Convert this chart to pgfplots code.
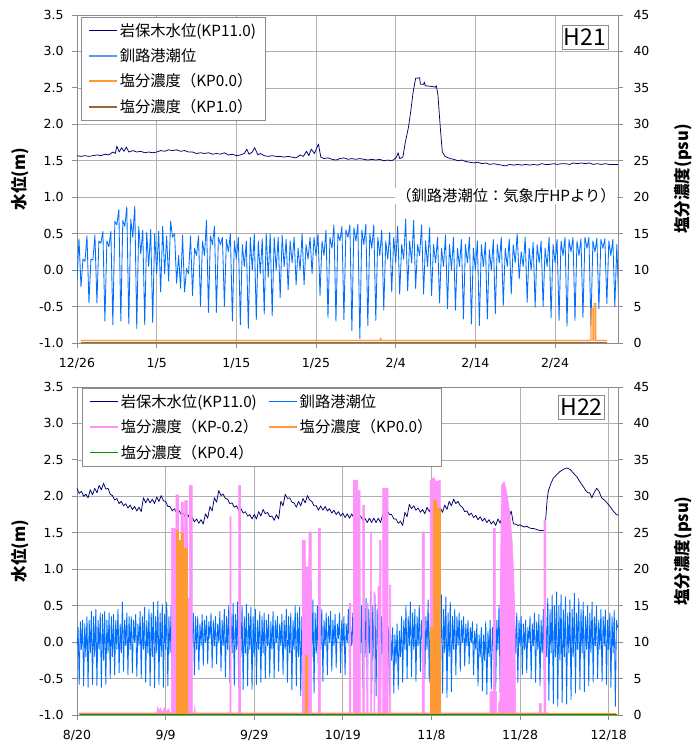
\documentclass[border=0pt]{standalone}
\usepackage{fontspec}
\setmainfont{Noto Sans CJK JP}
\newfontfamily\numfont{DejaVu Sans}
\usepackage{pgfplots}
\usepackage{pgfplotstable}
\pgfplotsset{compat=1.18}
\definecolor{navy}{RGB}{0,0,110}
\definecolor{kushiroBlue}{RGB}{0,110,255}
\definecolor{kushiroLight}{RGB}{90,150,245}
\definecolor{colOr}{RGB}{255,153,51}
\definecolor{colBr}{RGB}{153,102,51}
\definecolor{colPk}{RGB}{255,145,250}
\definecolor{colGr}{RGB}{0,150,0}
\definecolor{gridc}{RGB}{175,175,175}
\definecolor{axisc}{RGB}{140,140,140}
\newcommand\fs[1]{\fontsize{#1}{#1}\selectfont}
% tide at Kushiro port, H21 (every 6 h from 12/26)
\pgfplotstableread[header=false]{
-0.15
0.43
-0.23
0.15
0.12
0.47
-0.45
0.15
0.14
0.48
-0.45
0.40
0.37
0.53
-0.70
0.40
0.32
0.53
-0.75
0.67
0.62
0.83
-0.70
0.68
0.60
0.87
-0.74
0.70
0.45
0.88
-0.80
0.60
0.22
0.55
-0.75
0.52
0.05
0.56
-0.72
0.50
-0.05
0.53
-0.30
0.60
-0.05
0.47
-0.15
0.67
0.45
0.50
-0.18
0.20
-0.25
0.48
-0.30
0.02
-0.05
0.47
-0.35
0.30
0.20
0.47
-0.50
0.40
0.20
0.68
-0.58
0.47
0.35
0.60
-0.58
0.45
0.35
0.45
-0.50
0.42
0.25
0.50
-0.70
0.40
0.15
0.45
-0.75
0.35
0.05
0.40
-0.80
0.45
0.00
0.50
-0.68
0.40
-0.05
0.43
-0.60
0.50
-0.10
0.50
-0.63
0.45
0.00
0.45
-0.38
0.48
0.05
0.42
-0.27
0.40
0.10
0.45
-0.20
0.30
0.00
0.50
-0.20
0.35
0.15
0.45
-0.05
0.45
0.20
0.50
-0.35
0.40
0.20
0.55
-0.65
0.45
0.30
0.62
-0.70
0.50
0.40
0.60
-0.68
0.55
0.45
0.62
-0.83
0.58
0.40
0.63
-0.94
0.55
0.35
0.63
-0.76
0.50
0.30
0.62
-0.69
0.45
0.20
0.55
-0.55
0.40
0.15
0.52
-0.30
0.45
0.10
0.60
-0.33
0.35
0.15
0.70
-0.28
0.40
0.10
0.68
-0.25
0.35
0.20
0.62
-0.33
0.40
0.05
0.58
-0.35
0.35
0.10
0.45
-0.45
0.30
0.05
0.48
-0.53
0.35
0.00
0.45
-0.55
0.30
0.05
0.42
-0.67
0.35
0.10
0.45
-0.74
0.30
0.00
0.40
-0.76
0.35
0.05
0.38
-0.67
0.28
0.00
0.42
-0.60
0.35
0.10
0.45
-0.49
0.30
0.05
0.43
-0.33
0.35
0.10
0.50
-0.12
0.25
0.05
0.45
-0.44
0.30
0.00
0.38
-0.51
0.35
0.10
0.40
-0.50
0.30
0.05
0.45
-0.65
0.35
0.10
0.42
-0.69
0.40
0.20
0.45
-0.77
0.42
0.25
0.45
-0.69
0.40
0.20
0.43
-0.65
0.45
0.30
0.45
-0.76
0.40
0.25
0.44
-0.53
0.42
0.30
0.43
-0.46
0.40
0.20
0.42
-0.50
0.35
-0.46
}\tideTop
% tide at Kushiro port, H22 (every 6 h from 8/20)
\pgfplotstableread[header=false]{
-0.05
0.20
-0.58
0.28
-0.10
0.30
-0.60
0.25
-0.20
0.35
-0.62
0.30
-0.15
0.42
-0.58
0.35
-0.20
0.45
-0.60
0.30
-0.10
0.40
-0.62
0.38
-0.25
0.42
-0.58
0.30
-0.15
0.40
-0.50
0.35
-0.20
0.38
-0.45
0.30
-0.10
0.45
-0.42
0.25
-0.15
0.55
-0.40
0.30
-0.05
0.40
-0.45
0.35
-0.10
0.35
-0.42
0.30
0.00
0.38
-0.47
0.25
-0.05
0.42
-0.50
0.35
-0.10
0.48
-0.55
0.30
-0.15
0.45
-0.60
0.40
-0.20
0.55
-0.63
0.35
-0.15
0.56
-0.58
0.40
-0.20
0.52
-0.62
0.38
-0.10
0.55
-0.60
0.35
-0.15
0.50
-0.55
0.40
-0.10
0.45
-0.50
0.30
-0.05
0.40
-0.45
0.35
-0.10
0.38
-0.48
0.25
-0.05
0.42
-0.45
0.30
0.00
0.40
-0.45
0.35
-0.10
0.35
-0.38
0.25
-0.05
0.38
-0.32
0.30
0.00
0.36
-0.30
0.28
0.05
0.40
-0.35
0.30
-0.05
0.35
-0.30
0.25
0.00
0.42
-0.40
0.30
-0.05
0.45
-0.48
0.35
-0.10
0.50
-0.55
0.40
-0.15
0.53
-0.60
0.38
-0.10
0.55
-0.62
0.40
-0.20
0.50
-0.65
0.35
-0.15
0.52
-0.60
0.40
-0.10
0.48
-0.65
0.35
-0.20
0.45
-0.58
0.30
-0.10
0.42
-0.55
0.35
-0.15
0.40
-0.50
0.30
-0.05
0.38
-0.48
0.28
-0.10
0.42
-0.49
0.30
0.00
0.35
-0.40
0.25
-0.05
0.38
-0.45
0.30
-0.10
0.45
-0.55
0.35
-0.15
0.40
-0.65
0.30
-0.10
0.50
-0.60
0.40
-0.20
0.48
-0.74
0.35
-0.15
0.52
-0.65
0.40
-0.10
0.55
-0.68
0.45
-0.20
0.58
-0.70
0.40
-0.15
0.50
-0.60
0.35
-0.10
0.45
-0.54
0.30
-0.05
0.40
-0.45
0.35
0.00
0.42
-0.40
0.30
-0.05
0.38
-0.35
0.25
0.05
0.40
-0.42
0.30
-0.05
0.35
-0.45
0.25
0.00
0.45
-0.25
0.20
-0.05
0.40
-0.40
0.30
-0.10
0.46
-0.55
0.35
-0.15
0.50
-0.62
0.40
-0.20
0.60
-0.70
0.45
-0.15
0.69
-0.72
0.50
-0.20
0.65
-0.74
0.45
-0.10
0.55
-0.70
0.35
-0.15
0.30
-0.68
0.25
-0.20
0.21
-0.72
0.15
-0.25
0.20
-0.70
0.10
-0.30
0.25
-0.65
0.15
-0.20
0.35
-0.55
0.30
-0.10
0.50
-0.50
0.35
-0.05
0.55
-0.47
0.40
-0.10
0.45
-0.54
0.35
-0.05
0.50
-0.40
0.30
0.00
0.45
-0.50
0.35
-0.10
0.58
-0.55
0.40
-0.15
0.55
-0.60
0.40
-0.10
0.60
-0.65
0.45
-0.20
0.65
-0.70
0.45
-0.15
0.62
-0.76
0.40
-0.20
0.55
-0.68
0.35
-0.10
0.45
-0.45
0.35
-0.05
0.40
-0.40
0.30
0.00
0.35
-0.33
0.25
-0.05
0.30
-0.30
0.20
0.00
0.28
-0.45
0.15
-0.10
0.25
-0.60
0.10
-0.20
0.20
-0.67
0.10
-0.25
0.28
-0.72
0.15
-0.20
0.30
-0.65
0.20
-0.15
0.45
-0.65
0.30
-0.10
0.51
-0.70
0.35
-0.15
0.50
-0.74
0.40
-0.20
0.48
-0.65
0.35
-0.10
0.45
-0.60
0.30
-0.15
0.40
-0.55
0.30
-0.05
0.35
-0.45
0.25
-0.10
0.30
-0.42
0.20
0.00
0.35
-0.50
0.25
-0.05
0.40
-0.55
0.28
-0.10
0.38
-0.60
0.30
-0.15
0.45
-0.65
0.35
-0.20
0.60
-0.80
0.45
-0.15
0.65
-0.85
0.50
-0.20
0.69
-0.88
0.50
-0.25
0.65
-0.83
0.45
-0.20
0.62
-0.85
0.40
-0.15
0.58
-0.79
0.45
-0.20
0.67
-0.70
0.40
-0.10
0.60
-0.65
0.45
-0.15
0.55
-0.68
0.35
-0.10
0.50
-0.60
0.40
-0.15
0.55
-0.55
0.35
-0.05
0.50
-0.50
0.30
-0.10
0.45
-0.54
0.35
-0.05
0.44
-0.58
0.30
-0.10
0.40
-0.62
0.35
-0.15
0.44
-0.88
0.30
0.20
}\tideBot
% Iwabokki water level, H22 (every 12 h from 8/20)
\pgfplotstableread[header=false]{
2.11
2.04
2.07
2.00
2.03
1.98
2.09
2.02
2.11
2.05
2.15
2.09
2.18
2.10
2.11
2.03
2.01
1.95
1.97
1.90
1.93
1.87
1.90
1.84
1.88
1.82
1.86
1.80
1.85
1.79
1.98
1.91
1.97
1.91
1.96
1.90
1.99
1.93
2.01
1.94
1.93
1.86
1.86
1.80
1.83
1.77
1.81
1.75
1.77
1.71
1.75
1.69
1.71
1.65
1.69
1.63
1.68
1.62
1.76
1.70
1.86
1.80
1.98
1.92
2.08
2.01
2.03
1.97
1.96
1.90
1.91
1.85
1.87
1.81
1.83
1.77
1.79
1.73
1.75
1.69
1.75
1.69
1.79
1.73
1.82
1.76
1.78
1.72
1.73
1.67
1.75
1.69
1.93
1.87
2.03
1.97
1.98
1.92
1.91
1.85
1.93
1.87
1.97
1.91
2.01
1.95
1.93
1.87
1.87
1.81
1.87
1.81
1.86
1.80
1.83
1.77
1.81
1.75
1.79
1.73
1.77
1.71
1.76
1.70
1.76
1.70
1.75
1.69
1.73
1.67
1.70
1.64
1.70
1.64
1.70
1.64
1.70
1.64
1.75
1.69
1.81
1.75
1.75
1.69
1.69
1.63
1.66
1.60
1.78
1.72
1.89
1.83
1.87
1.81
1.84
1.78
1.82
1.76
1.85
1.79
1.87
1.81
1.85
1.79
1.84
1.78
1.88
1.82
1.93
1.87
1.96
1.90
1.93
1.87
1.85
1.79
1.80
1.74
1.77
1.71
1.74
1.68
1.72
1.66
1.70
1.64
1.68
1.62
1.66
1.60
1.69
1.63
1.73
1.67
1.77
1.71
1.80
1.62
}\navyBot
\pgfplotsset{
  common/.style={scale only axis, width=541pt, height=328pt, anchor=south west,
    /pgf/number format/assume math mode=true,
    tick label style={font=\numfont\fs{12.5}},
    axis line style={axisc, line width=0.8pt},
    tick style={axisc, line width=0.8pt}, tick align=outside, major tick length=5pt,
    label style={font=\bfseries\fs{16.5}}},
  leftax/.style={common, ymin=-1, ymax=3.5, ytick={-1,-0.5,0,0.5,1,1.5,2,2.5,3,3.5},
    yticklabel style={/pgf/number format/.cd, fixed, fixed zerofill, precision=1, /tikz/.cd, xshift=-5pt},
    xticklabel style={yshift=-7pt},
    grid=major, major grid style={gridc, line width=0.7pt},
    xtick pos=bottom, ytick pos=left,
    ylabel={水位(m)}, ylabel style={at={(axis description cs:-0.1054,0.5)}, anchor=center},
    legend cell align=left,
    legend image code/.code={\draw[##1] (0pt,0pt) -- (28pt,0pt);},
    legend style={draw=axisc, fill=white, font=\fs{15.3}, inner xsep=7pt, inner ysep=4pt, row sep=7pt}},
  rightax/.style={common, ymin=0, ymax=45, ytick={0,5,...,45}, axis y line*=right, hide x axis,
    yticklabel style={xshift=7pt},
    ylabel={塩分濃度(psu)}, ylabel style={at={(axis description cs:1.12,0.5)}, anchor=center}},
  psu/.style={y filter/.expression={y/10-1}},
  limg/.style={legend image code/.code={\draw[#1] (0pt,0pt) -- (28pt,0pt);}},
}
\begin{document}
\begin{tikzpicture}
\useasboundingbox (0,0) rectangle (695pt,747pt);
% ================= TOP PANEL (H21) =================
\begin{axis}[rightax, at={(77pt,404pt)}, xmin=0, xmax=67.9]
\addplot[draw=none, forget plot] coordinates {(0,0)};
\end{axis}
\begin{axis}[leftax, at={(77pt,404pt)}, xmin=0, xmax=67.9,
  xtick={0,10,20,30,40,50,60}, xticklabels={12/26,1/5,1/15,1/25,2/4,2/14,2/24},
  legend style={at={(0.0074,0.994)}, anchor=north west}]
\addplot[navy, line width=0.75pt, line join=round, limg={draw=navy, line width=0.9pt}] coordinates {
(0,1.57)(0.5,1.56)(1,1.57)(1.5,1.56)(2,1.57)(2.5,1.58)(3,1.57)(3.5,1.59)(4,1.58)(4.5,1.62)(4.8,1.60)(5.0,1.70)
(5.3,1.62)(5.6,1.68)(5.9,1.63)(6.2,1.69)(6.5,1.62)(7,1.64)(7.5,1.62)(8,1.63)(8.5,1.61)(9,1.62)(9.5,1.61)(10,1.62)
(10.5,1.64)(11,1.63)(11.5,1.65)(12,1.64)(12.5,1.65)(13,1.63)(13.5,1.64)(14,1.62)(14.5,1.62)(15,1.60)(15.5,1.61)
(16,1.60)(16.5,1.61)(17,1.59)(17.5,1.60)(18,1.59)(18.5,1.61)(19,1.58)(19.5,1.59)(20,1.57)(20.5,1.58)(21,1.60)
(21.3,1.66)(21.6,1.59)(22,1.62)(22.3,1.68)(22.7,1.58)(23,1.60)(23.5,1.57)(24,1.56)(24.5,1.57)(25,1.56)(25.5,1.56)
(26,1.55)(26.5,1.56)(27,1.55)(27.5,1.54)(28,1.58)(28.4,1.56)(28.8,1.63)(29.1,1.57)(29.4,1.66)(29.8,1.60)(30.3,1.73)
(30.6,1.55)(31,1.53)(31.5,1.54)(32,1.52)(32.5,1.51)(33,1.53)(33.5,1.54)(34,1.52)(34.5,1.53)(35,1.52)(35.5,1.53)
(36,1.52)(36.5,1.51)(37,1.52)(37.5,1.51)(38,1.52)(38.5,1.50)(39,1.51)(39.5,1.50)(39.8,1.52)(40.1,1.55)(40.3,1.61)
(40.5,1.53)(40.9,1.55)(41.2,1.75)(41.6,1.96)(41.9,2.19)(42.2,2.45)(42.5,2.63)(43.0,2.64)(43.1,2.55)(43.5,2.55)
(43.6,2.58)(43.7,2.53)(44.5,2.52)(45.0,2.51)(45.1,2.53)(45.3,2.40)(45.6,1.95)(45.85,1.62)(46.2,1.56)(46.8,1.53)
(47.3,1.52)(47.8,1.50)(48.3,1.51)(48.8,1.49)(49.3,1.48)(49.8,1.47)(50.3,1.48)(50.8,1.46)(51.3,1.47)(51.8,1.45)
(52.3,1.46)(52.8,1.45)(53.3,1.44)(53.8,1.43)(54.3,1.45)(54.8,1.44)(55.3,1.45)(55.8,1.44)(56.3,1.45)(56.8,1.44)
(57.3,1.45)(57.8,1.44)(58.3,1.46)(58.8,1.45)(59.3,1.45)(59.8,1.46)(60.3,1.45)(60.8,1.46)(61.3,1.46)(61.8,1.45)
(62.3,1.47)(62.8,1.46)(63.3,1.47)(63.8,1.46)(64.3,1.47)(64.8,1.45)(65.3,1.46)(65.8,1.45)(66.3,1.46)(66.8,1.45)
(67.3,1.45)(67.9,1.45)};
\addlegendentry{岩保木水位(KP11.0)}
\addplot[draw=kushiroBlue, line width=0.85pt, line join=round, limg={draw=kushiroLight, line width=1.6pt}] table[x expr=\coordindex*0.25, y index=0] {\tideTop};
\addlegendentry{釧路港潮位}
\addplot[colOr, line width=1.2pt, psu, limg={draw=colOr, line width=1.6pt}] coordinates {
(0.5,0.35)(38.0,0.35)(38.1,0.6)(38.2,0.35)(64.5,0.35)(64.5,4.7)(64.75,4.7)(64.75,0.35)(64.9,0.35)(64.9,5.4)(65.1,5.4)(65.1,0.35)(66.5,0.35)};
\addlegendentry{塩分濃度（KP0.0）}
\addplot[colBr, line width=1.4pt, psu, limg={draw=colBr, line width=1.6pt}] coordinates {(0.5,0.1)(66.5,0.1)};
\addlegendentry{塩分濃度（KP1.0）}
\node[draw=axisc, fill=white, inner xsep=2pt, inner ysep=3.5pt, font=\fs{23}] at (rel axis cs:0.939,0.933) {H21};
\node[fill=white, inner sep=1pt, font=\fs{15.3}] at (rel axis cs:0.793,0.448) {（釧路港潮位：気象庁HPより）};
\end{axis}
% ================= BOTTOM PANEL (H22) =================
\begin{axis}[rightax, at={(77pt,32pt)}, xmin=0, xmax=122.1]
\addplot[draw=none, forget plot] coordinates {(0,0)};
\end{axis}
\begin{axis}[leftax, at={(77pt,32pt)}, xmin=0, xmax=122.1,
  xtick={0,20,40,60,80,100,120}, xticklabels={8/20,9/9,9/29,10/19,11/8,11/28,12/18},
  legend columns=2, legend style={at={(0.0092,0.997)}, anchor=north west,
    /tikz/every even column/.append style={column sep=8pt}}]
\addplot[navy, line width=0.75pt, line join=round, forget plot] table[x expr=\coordindex*0.5, y index=0] {\navyBot};
\addplot[navy, line width=0.75pt, line join=round, limg={draw=navy, line width=0.9pt}] coordinates {
(98.5,1.62)(99,1.62)(99.5,1.60)(100,1.61)(100.5,1.59)(101,1.58)(101.5,1.59)(102,1.57)(102.5,1.56)(103,1.56)
(103.5,1.55)(104,1.54)(104.5,1.53)(105,1.53)(105.5,1.53)(105.8,1.70)(106.1,1.95)(106.4,2.08)(107,2.18)(107.5,2.25)
(108.3,2.30)(109,2.34)(109.8,2.37)(110.5,2.39)(111.3,2.37)(112,2.32)(112.8,2.27)(113.5,2.20)(114.3,2.13)(114.8,2.08)
(115.3,2.05)(115.7,2.05)(116.2,1.98)(116.7,2.05)(117.3,2.11)(117.8,2.07)(118.4,1.98)(119,1.95)(119.5,1.92)
(120.3,1.86)(121,1.80)(121.6,1.76)(122.1,1.74)};
\addlegendentry{岩保木水位(KP11.0)}
\addplot[draw=kushiroBlue, line width=0.85pt, line join=round, limg={draw=kushiroBlue, line width=1.6pt}] table[x expr=\coordindex*0.25, y index=0] {\tideBot};
\addlegendentry{釧路港潮位}
\addplot[draw=colPk, fill=colPk, line width=0.6pt, psu, limg={draw=colPk, line width=1.6pt}] coordinates {
(0.5,0)(0.5,0.3)(18.0,0.3)(18.2,1.1)(18.5,0.5)(18.8,1.0)(19.2,0.3)(19.8,1.0)(20.2,0.4)(20.6,0.9)(21.0,0.3)
(21.3,0.3)(21.3,25.6)(22.3,25.6)(22.35,30.2)(22.9,30.2)(22.95,16)(23.4,16)(23.5,29.2)(24.0,29.2)(24.1,16)(24.25,16)
(24.3,29.4)(24.9,29.4)(25.0,16)(25.35,16)(25.4,31.5)(26.0,31.5)(26.05,0.3)(26.5,0.3)(26.6,1.3)(26.7,0.3)
(34.5,0.3)(34.5,27.2)(34.8,27.2)(34.8,0.3)(36.5,0.3)(36.5,31.5)(36.9,31.5)(36.9,0.3)
(50.9,0.3)(50.9,24.0)(51.5,24.0)(51.55,20.3)(52.3,20.3)(52.35,25.1)(52.9,25.1)(52.95,0.3)
(54.5,0.3)(54.5,25.6)(55.0,25.6)(55.0,0.3)(61.5,0.3)(61.5,15.3)(61.8,15.3)(61.8,0.3)
(62.4,0.3)(62.4,32.2)(63.3,32.2)(63.35,30.8)(63.9,30.8)(63.95,0.3)(64.5,0.3)(64.5,28.8)(64.9,28.8)(64.9,0.3)
(65.4,0.3)(65.4,15.3)(65.7,15.3)(65.7,0.3)(66.2,0.3)(66.2,25.1)(66.5,25.1)(66.5,0.3)
(67.0,0.3)(67.0,16.9)(67.2,16.9)(67.2,0.3)(67.9,0.3)(67.9,17.6)(68.3,17.6)(68.3,24.0)(68.6,24.0)(68.6,0.3)
(69.0,0.3)(69.0,31.1)(70.2,31.1)(70.2,0.3)(70.5,0.3)(70.5,17.8)(70.8,17.8)(70.8,0.3)
(77.9,0.3)(77.9,25.1)(78.4,25.1)(78.4,0.3)(79.7,0.3)(79.7,32.2)(80.5,32.6)(81.0,32.0)(82.0,32.2)(82.1,0.3)
(93.2,0.3)(93.2,3.2)(94.0,3.2)(94.0,25.6)(94.4,25.6)(94.4,3.2)(94.7,3.2)(94.7,0.3)
(95.1,0.3)(95.1,1.7)(95.4,1.7)(95.5,3)(95.6,21)(95.8,31.5)(96.4,32.0)(96.9,30.8)(97.3,29.3)(97.7,27.6)
(98.2,24)(98.5,20)(98.8,14.5)(99.0,0.3)(104.3,0.3)(104.3,1.6)(104.8,1.6)(104.8,0.3)
(105.4,0.3)(105.4,26.7)(105.8,26.7)(105.8,0.3)(106.5,0.3)(106.5,0)};
\addlegendentry{塩分濃度（KP-0.2）}
\addplot[draw=colOr, fill=colOr, line width=0.6pt, psu, limg={draw=colOr, line width=1.6pt}] coordinates {
(0.5,0)(0.5,0.2)(22.4,0.2)(22.4,25.3)(22.9,25.3)(22.9,0.2)(23.1,0.2)(23.1,24.0)(23.3,24.0)(23.3,0.2)
(23.5,0.2)(23.5,24.9)(23.9,24.9)(23.9,0.2)(24.2,0.2)(24.2,22.9)(24.8,22.9)(24.8,0.2)
(51.5,0.2)(51.5,8.2)(51.9,8.2)(51.9,0.2)(79.7,0.2)(79.7,12.0)(80.4,12.0)(80.4,29.5)(81.2,29.5)(81.2,28.4)
(82.0,28.4)(82.0,0.2)(121.5,0.2)(121.5,0)};
\addlegendentry{塩分濃度（KP0.0）}
\addplot[colGr, line width=1.4pt, psu, limg={draw=colGr, line width=1.6pt}] coordinates {(0.6,0.1)(121.8,0.1)};
\addlegendentry{塩分濃度（KP0.4）}
\node[draw=axisc, fill=white, inner xsep=2pt, inner ysep=3.5pt, font=\fs{23}] at (rel axis cs:0.9325,0.9375) {H22};
\end{axis}
\end{tikzpicture}
\end{document}
